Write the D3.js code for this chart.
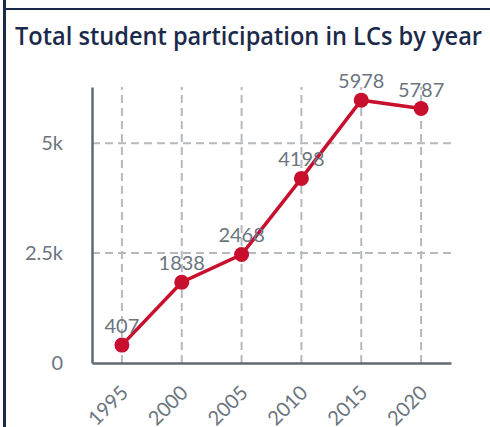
<!DOCTYPE html>
<html>
<head>
<meta charset="utf-8">
<script src="https://cdn.jsdelivr.net/npm/d3@7"></script>
<style>
  body { margin: 0; background: #fff; }
  svg { display: block; }
</style>
</head>
<body>
<svg id="vis" width="490" height="427"></svg>
<script>
// data
var years = ['1995', '2000', '2005', '2010', '2015', '2020'];
var students = [407, 1838, 2468, 4198, 5978, 5787];
var yTicks = [0, 2500, 5000];
var yTickLabels = ['0', '2.5k', '5k'];

var title = 'Total student participation in LCs by year';

var navy = '#1b2a4b',
    red = '#c8102e',
    grey = '#6b7580',
    gridGrey = '#b5b9bd',
    axisGrey = '#5f6a75';

var plot = {l: 92, r: 451, t: 87, b: 363};

var svg = d3.select('#vis');

// frame: left + top rules
svg.append('rect')
    .attr('x', 3).attr('y', 0)
    .attr('width', 3).attr('height', 427)
    .attr('fill', navy);
svg.append('rect')
    .attr('x', 3).attr('y', 8)
    .attr('width', 487).attr('height', 2)
    .attr('fill', navy);

svg.append('text')
    .attr('x', 15)
    .attr('y', 45)
    .attr('fill', navy)
    .style('font-family', '"Open Sans", sans-serif')
    .style('font-size', '25px')
    .style('font-weight', 600)
    .attr('textLength', 467)
    .attr('lengthAdjust', 'spacingAndGlyphs')
    .text(title);

var x = d3.scalePoint()
    .domain(years)
    .range([plot.l, plot.r])
    .padding(0.5);

var y = d3.scaleLinear()
    .domain([0, d3.max(students) * 1.05])
    .range([plot.b, plot.t]);

var data = years.map(function (d, i) {
    return {year: d, value: students[i]};
});

// gridlines
var grid = svg.append('g').attr('class', 'grid');

grid.selectAll('.hgrid')
    .data(yTicks.filter(function (d) { return d > 0; }))
    .enter().append('line')
    .attr('x1', plot.l).attr('x2', plot.r)
    .attr('y1', function (d) { return y(d); })
    .attr('y2', function (d) { return y(d); })
    .attr('stroke', gridGrey)
    .attr('stroke-width', 2)
    .attr('stroke-dasharray', '8,5');

grid.selectAll('.vgrid')
    .data(years)
    .enter().append('line')
    .attr('x1', function (d) { return x(d); })
    .attr('x2', function (d) { return x(d); })
    .attr('y1', plot.b).attr('y2', plot.t)
    .attr('stroke', gridGrey)
    .attr('stroke-width', 2)
    .attr('stroke-dasharray', '8,5');

// axes
var yAxis = svg.append('g')
    .attr('class', 'axis axis--y')
    .attr('transform', 'translate(' + plot.l + ',0)')
    .call(d3.axisLeft(y)
        .tickValues(yTicks)
        .tickFormat(function (d, i) { return yTickLabels[i]; })
        .tickSize(0)
        .tickPadding(29));

var xAxis = svg.append('g')
    .attr('class', 'axis axis--x')
    .attr('transform', 'translate(0,' + plot.b + ')')
    .call(d3.axisBottom(x).tickSize(0).tickPadding(0));

svg.selectAll('.axis .domain')
    .attr('stroke', axisGrey)
    .attr('stroke-width', 2.5);

svg.selectAll('.axis text')
    .attr('fill', grey)
    .style('font-family', 'Lato, sans-serif')
    .style('font-size', '20px');

xAxis.selectAll('text')
    .attr('dy', null)
    .attr('y', 0)
    .style('text-anchor', 'end')
    .attr('transform', 'translate(7,31) rotate(-45)');

// line + points
var line = d3.line()
    .x(function (d) { return x(d.year); })
    .y(function (d) { return y(d.value); });

svg.append('path')
    .datum(data)
    .attr('d', line)
    .attr('fill', 'none')
    .attr('stroke', red)
    .attr('stroke-width', 3.5);

svg.selectAll('.dot')
    .data(data)
    .enter().append('circle')
    .attr('class', 'dot')
    .attr('cx', function (d) { return x(d.year); })
    .attr('cy', function (d) { return y(d.value); })
    .attr('r', 7.5)
    .attr('fill', red);

svg.selectAll('.val')
    .data(data)
    .enter().append('text')
    .attr('class', 'val')
    .attr('x', function (d) { return x(d.year); })
    .attr('y', function (d) { return y(d.value) - 12; })
    .attr('fill', grey)
    .style('font-family', 'Lato, sans-serif')
    .style('font-size', '20px')
    .style('text-anchor', 'middle')
    .text(function (d) { return d.value; });
</script>
</body>
</html>
